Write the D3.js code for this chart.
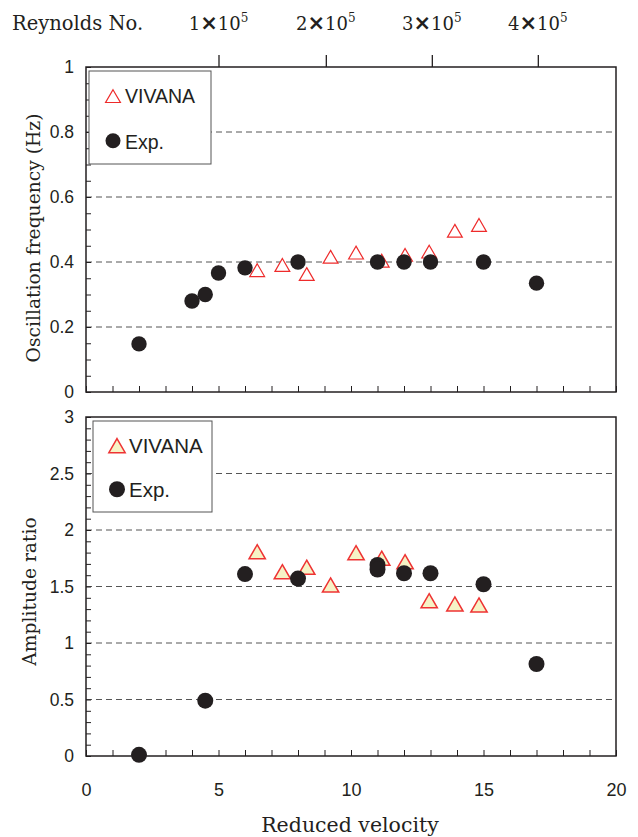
<!DOCTYPE html>
<html>
<head>
<meta charset="utf-8">
<script src="https://cdn.jsdelivr.net/npm/d3@7"></script>
<style>
  body { margin: 0; background: #fff; }
  svg { display: block; }
</style>
</head>
<body>
<div id="wrapper"></div>
<script>
// Data
const freqYTicks = [0, 0.2, 0.4, 0.6, 0.8, 1]
const ampYTicks = [0, 0.5, 1, 1.5, 2, 2.5, 3]
const velTicks = [0, 5, 10, 15, 20]
const reTicks = [1e5, 2e5, 3e5, 4e5]
const reVelocity = [5.0, 9.05, 13.05, 17.05]   // where each Reynolds tick sits on the velocity axis

const expVelTop = [2, 4, 4.5, 5, 6, 8, 11, 12, 13, 15, 17]
const expFreq = [0.148, 0.28, 0.30, 0.366, 0.382, 0.40, 0.40, 0.40, 0.40, 0.40, 0.335]
const vivVel = [6.46, 7.41, 8.33, 9.23, 10.19, 11.16, 12.04, 12.95, 13.92, 14.83]
const vivFreq = [0.375, 0.391, 0.363, 0.416, 0.429, 0.404, 0.422, 0.432, 0.496, 0.514]

const expVelBot = [2, 4.5, 6, 8, 11, 11, 12, 13, 15, 17]
const expAmp = [0.01, 0.49, 1.61, 1.57, 1.69, 1.65, 1.617, 1.617, 1.52, 0.814]
const vivAmp = [1.808, 1.631, 1.670, 1.513, 1.799, 1.750, 1.719, 1.374, 1.345, 1.336]

const serif = "'DejaVu Serif', serif"
const sans = "'Liberation Sans', Arial, sans-serif"
const ink = "#231f20"

const width = 638
const height = 837
const left = 86, right = 616
const top1 = 67, bot1 = 392
const top2 = 417, bot2 = 756

const wrapper = d3.select("#wrapper")
    .append("svg")
    .attr("width", width)
    .attr("height", height)

const xScale = d3.scaleLinear().domain([0, 20]).range([left, right])
const yFreq = d3.scaleLinear().domain([0, 1]).range([bot1, top1])
const yAmp = d3.scaleLinear().domain([0, 3]).range([bot2, top2])
const reScale = d3.scaleLinear()
    .domain(reTicks)
    .range(reVelocity.map(v => xScale(v)))

// triangle centred on its bounding box
const boxTriangle = {
    draw(context, size) {
        const s = Math.sqrt(size * 4 / Math.sqrt(3))
        const h = s * Math.sqrt(3) / 2
        context.moveTo(0, -h / 2)
        context.lineTo(s / 2, h / 2)
        context.lineTo(-s / 2, h / 2)
        context.closePath()
    }
}

function drawPanel(yScale, yTicks, minorStep, top, bottom, gridTicks) {
    const g = wrapper.append("g")

    // grid
    g.append("g")
        .selectAll("line")
        .data(gridTicks)
        .join("line")
            .attr("x1", left)
            .attr("x2", right)
            .attr("y1", d => yScale(d))
            .attr("y2", d => yScale(d))
            .attr("stroke", "#555")
            .attr("stroke-width", 1)
            .attr("stroke-dasharray", "6,4")

    // inner minor ticks on left
    const yMinor = d3.range(yScale.domain()[0], yScale.domain()[1] + 1e-9, minorStep)
    const yAxisGen = d3.axisRight(yScale)
        .tickValues(yMinor)
        .tickSize(5)
        .tickFormat("")
    g.append("g")
        .attr("transform", `translate(${left},0)`)
        .call(yAxisGen)
        .call(a => a.select(".domain").remove())
        .call(a => a.selectAll("line").attr("stroke", ink))

    // inner ticks on bottom
    const xAxisGen = d3.axisTop(xScale)
        .tickValues(d3.range(0, 21, 1))
        .tickSize(6)
        .tickFormat("")
    g.append("g")
        .attr("transform", `translate(0,${bottom})`)
        .call(xAxisGen)
        .call(a => a.select(".domain").remove())
        .call(a => a.selectAll("line").attr("stroke", ink))

    // y tick labels
    const yLabelGen = d3.axisLeft(yScale)
        .tickValues(yTicks)
        .tickSize(0)
        .tickPadding(0)
        .tickFormat(d3.format("~g"))
    g.append("g")
        .attr("transform", `translate(${left - 12},0)`)
        .call(yLabelGen)
        .call(a => a.select(".domain").remove())
        .call(a => a.selectAll("text")
            .attr("font-family", sans)
            .attr("font-size", 17.5)
            .attr("fill", ink))

    // frame
    g.append("rect")
        .attr("x", left)
        .attr("y", top)
        .attr("width", right - left)
        .attr("height", bottom - top)
        .attr("fill", "none")
        .attr("stroke", ink)
        .attr("stroke-width", 1.5)

    return g
}

// top panel
const p1 = drawPanel(yFreq, freqYTicks, 0.05, top1, bot1, [0.2, 0.4, 0.6, 0.8])

// bottom panel
const p2 = drawPanel(yAmp, ampYTicks, 0.1, top2, bot2, [0.5, 1, 1.5, 2, 2.5])

// legends
function drawLegend(g, box, triStyle, triSize, r, fontSize) {
    const lg = g.append("g")
    lg.append("rect")
        .attr("x", box.x).attr("y", box.y)
        .attr("width", box.w).attr("height", box.h)
        .attr("fill", "#fff")
        .attr("stroke", "#555")
        .attr("stroke-width", 1)
    lg.append("path")
        .attr("d", d3.symbol(boxTriangle, triSize)())
        .attr("transform", `translate(${box.x + 24},${box.y + box.h * 0.27})`)
        .attr("fill", triStyle.fill)
        .attr("stroke", triStyle.stroke)
        .attr("stroke-width", triStyle.sw)
    lg.append("circle")
        .attr("cx", box.x + 24)
        .attr("cy", box.y + box.h * 0.75)
        .attr("r", r)
        .attr("fill", ink)
    lg.append("text")
        .attr("x", box.x + 36)
        .attr("y", box.y + box.h * 0.27 + 7)
        .attr("font-family", sans)
        .attr("font-size", fontSize)
        .attr("fill", ink)
        .text("VIVANA")
    lg.append("text")
        .attr("x", box.x + 36)
        .attr("y", box.y + box.h * 0.75 + 8)
        .attr("font-family", sans)
        .attr("font-size", fontSize)
        .attr("fill", ink)
        .text("Exp.")
}

const tri1 = { fill: "none", stroke: "#ee2b2b", sw: 1.2 }
const tri2 = { fill: "#f6f3c6", stroke: "#ee3333", sw: 1.5 }

drawLegend(p1, { x: 89, y: 71, w: 122, h: 93 }, tri1, 95, 7.5, 19.5)
drawLegend(p2, { x: 93, y: 421, w: 119, h: 91 }, tri2, 115, 8, 20.5)

// top panel marks
p1.append("g")
    .selectAll("path")
    .data(vivVel.map((v, i) => [v, vivFreq[i]]))
    .join("path")
        .attr("d", d3.symbol(boxTriangle, 95))
        .attr("transform", d => `translate(${xScale(d[0])},${yFreq(d[1])})`)
        .attr("fill", "#fff")
        .attr("stroke", tri1.stroke)
        .attr("stroke-width", tri1.sw)

p1.append("g")
    .selectAll("circle")
    .data(expVelTop.map((v, i) => [v, expFreq[i]]))
    .join("circle")
        .attr("cx", d => xScale(d[0]))
        .attr("cy", d => yFreq(d[1]))
        .attr("r", 7.7)
        .attr("fill", ink)

// bottom panel marks
p2.append("g")
    .selectAll("path")
    .data(vivVel.map((v, i) => [v, vivAmp[i]]))
    .join("path")
        .attr("d", d3.symbol(boxTriangle, 115))
        .attr("transform", d => `translate(${xScale(d[0])},${yAmp(d[1])})`)
        .attr("fill", tri2.fill)
        .attr("stroke", tri2.stroke)
        .attr("stroke-width", tri2.sw)

p2.append("g")
    .selectAll("circle")
    .data(expVelBot.map((v, i) => [v, expAmp[i]]))
    .join("circle")
        .attr("cx", d => xScale(d[0]))
        .attr("cy", d => yAmp(d[1]))
        .attr("r", 8)
        .attr("fill", ink)

// x tick labels under the bottom panel
const xLabelGen = d3.axisBottom(xScale)
    .tickValues(velTicks)
    .tickSize(0)
    .tickPadding(0)
wrapper.append("g")
    .attr("transform", `translate(0,${bot2 + 27})`)
    .call(xLabelGen)
    .call(a => a.select(".domain").remove())
    .call(a => a.selectAll("text")
        .attr("font-family", sans)
        .attr("font-size", 18)
        .attr("fill", ink))

// Reynolds number axis on top
const reAxisGen = d3.axisTop(reScale)
    .tickValues(reTicks)
    .tickSize(12)
    .tickFormat("")
wrapper.append("g")
    .attr("transform", `translate(0,${top1})`)
    .call(reAxisGen)
    .call(a => a.select(".domain").remove())
    .call(a => a.selectAll("line").attr("stroke", ink).attr("stroke-width", 1.3))

const reLabels = wrapper.append("g")
    .selectAll("text")
    .data(reTicks)
    .join("text")
        .attr("x", d => reScale(d))
        .attr("y", 30)
        .attr("text-anchor", "middle")
        .attr("font-family", serif)
        .attr("font-size", 18)
        .attr("fill", ink)
reLabels.append("tspan").text(d => d / 1e5)
reLabels.append("tspan")
    .attr("font-family", "'DejaVu Sans', sans-serif")
    .attr("font-weight", "bold")
    .attr("font-size", 21)
    .text("\u00d7")
reLabels.append("tspan").text("10")
reLabels.append("tspan")
    .attr("font-size", 12)
    .attr("dy", -8)
    .text("5")

wrapper.append("text")
    .attr("x", 12)
    .attr("y", 30)
    .attr("font-family", serif)
    .attr("font-size", 19.5)
    .attr("fill", ink)
    .text("Reynolds No.")

// axis titles
wrapper.append("text")
    .attr("transform", `translate(${40},${238}) rotate(-90)`)
    .attr("text-anchor", "middle")
    .attr("font-family", serif)
    .attr("font-size", 18.7)
    .attr("fill", ink)
    .text("Oscillation frequency (Hz)")

wrapper.append("text")
    .attr("transform", `translate(${36},${(top2 + bot2) / 2 + 5}) rotate(-90)`)
    .attr("text-anchor", "middle")
    .attr("font-family", serif)
    .attr("font-size", 18.7)
    .attr("fill", ink)
    .text("Amplitude ratio")

wrapper.append("text")
    .attr("x", 350)
    .attr("y", 832)
    .attr("text-anchor", "middle")
    .attr("font-family", serif)
    .attr("font-size", 20.5)
    .attr("fill", ink)
    .text("Reduced velocity")
</script>
</body>
</html>
